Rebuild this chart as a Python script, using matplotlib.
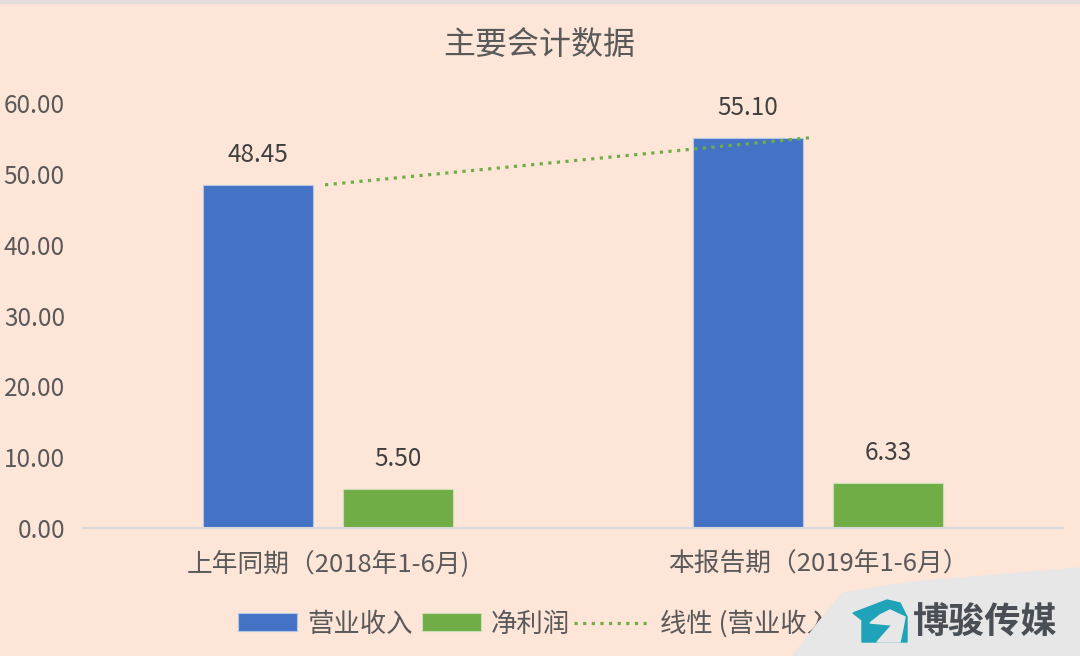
import matplotlib
matplotlib.use('Agg')
import matplotlib.pyplot as plt
from matplotlib.patches import Polygon

plt.rcParams['font.family'] = ['Noto Sans CJK SC', 'DejaVu Sans']

# datos
categories = ['上年同期（2018年1-6月)', '本报告期（2019年1-6月）']
revenue = [48.45, 55.10]
profit = [5.50, 6.33]
y_ticks = [0, 10, 20, 30, 40, 50, 60]

W, H = 1080, 656
bg = '#FDE5D8'
text_color = '#595959'
blue = '#4472C4'
green = '#70AD47'


def px(x, y):
    return x / W, 1 - y / H


fig = plt.figure(figsize=(W / 100, H / 100), dpi=100, facecolor=bg)
ax = fig.add_axes([83 / W, 1 - 528 / H, 980 / W, 425 / H], facecolor=bg)

width = 0.2245
offset = 0.1425
x = list(range(len(categories)))
bars1 = ax.bar([i - offset for i in x], revenue, width, color=blue, edgecolor='#B4C7E7', linewidth=0.8, label='营业收入')
bars2 = ax.bar([i + offset for i in x], profit, width, color=green, edgecolor='#C5E0B4', linewidth=0.8, label='净利润')
trend, = ax.plot([x[0] - 0.006, x[1] - 0.016], revenue, ls=(0, (1, 1.7)), color=green, lw=2.3, label='线性 (营业收入)')

for i, v in enumerate(revenue):
    ax.text(i - offset, v + 2.4, f'{v:.2f}', ha='center', va='bottom', fontsize=17.5, color='#404040')
for i, v in enumerate(profit):
    ax.text(i + offset, v + 2.4, f'{v:.2f}', ha='center', va='bottom', fontsize=17.5, color='#404040')

ax.set_xlim(-0.5, 1.5)
ax.set_ylim(0, 60)
ax.set_yticks(y_ticks)
ax.set_yticklabels([f'{t:.2f}' for t in y_ticks])
ax.set_xticks(x)
ax.set_xticklabels(categories)
ax.tick_params(axis='y', length=0, labelsize=17.5, labelcolor=text_color, pad=13)
ax.tick_params(axis='x', length=0, labelsize=18.5, labelcolor=text_color, pad=16)
for s in ['top', 'left', 'right']:
    ax.spines[s].set_visible(False)
ax.spines['bottom'].set_color('#D9D9D9')
ax.spines['bottom'].set_linewidth(1.5)

fig.text(*px(539, 45), '主要会计数据', ha='center', va='center', fontsize=23, color=text_color)

# dos leyendas porque la linea punteada es mas larga que los rectangulos
ax.legend(handles=[bars1, bars2], loc='center left', bbox_to_anchor=px(238, 624), bbox_transform=fig.transFigure,
          ncol=2, frameon=False, fontsize=19, labelcolor=text_color, handlelength=2.24, handleheight=0.66,
          handletextpad=0.38, columnspacing=0.34, borderpad=0, borderaxespad=0)
fig.legend(handles=[trend], loc='center left', bbox_to_anchor=px(574, 624), frameon=False, fontsize=19,
           labelcolor=text_color, handlelength=2.88, handletextpad=0.38, borderpad=0, borderaxespad=0)

# franja superior y marca de agua
fig.add_artist(Polygon([px(0, 0), px(W, 0), px(W, 3), px(0, 3)], transform=fig.transFigure, color='#E3DDDB', zorder=6))
corner = [px(793, 656), px(818, 623), px(843, 593), px(913, 582), px(1080, 568), px(1080, 656)]
fig.add_artist(Polygon(corner, transform=fig.transFigure, color='#E7E7E7', zorder=6))
house = [px(853, 613), px(887, 600), px(900, 603), px(907, 617), px(907, 642), px(862, 642), px(862, 620)]
fig.add_artist(Polygon(house, transform=fig.transFigure, color='#1FA3B8', zorder=7))
horse = [px(877, 642), px(892, 625), px(870, 623), px(880, 615), px(890, 610), px(905, 617), px(903, 628), px(900, 642)]
fig.add_artist(Polygon(horse, transform=fig.transFigure, color='#E7E7E7', zorder=8))
fig.text(*px(985, 623), '博骏传媒', ha='center', va='center', fontsize=26, fontweight='bold', color='#4A4F55', zorder=9)

fig.savefig('out.png', dpi=100, facecolor=bg)
